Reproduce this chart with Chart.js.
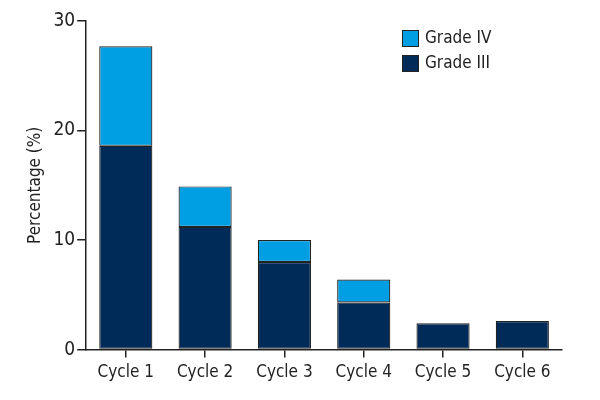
<!DOCTYPE html>
<html>
<head>
<meta charset="utf-8">
<script src="https://cdn.jsdelivr.net/npm/chart.js@4/dist/chart.umd.min.js"></script>
<style>
  html, body { margin: 0; padding: 0; background: #fff; }
  #wrap { width: 600px; height: 400px; }
</style>
</head>
<body>
<div id="wrap"><canvas id="c"></canvas></div>
<script>
const categories = ['Cycle 1', 'Cycle 2', 'Cycle 3', 'Cycle 4', 'Cycle 5', 'Cycle 6'];
const gradeIII = [18.6, 11.2, 8.0, 4.3, 2.4, 2.6];
const gradeIV = [9.1, 3.7, 2.0, 2.1, null, null];
const yTicks = [0, 10, 20, 30];

const FONT = '"DejaVu Sans Condensed", "Roboto", sans-serif';
const INK = '#222';

// legend drawn by hand, top-right inside the plot
const boxLegend = {
    id: 'boxLegend',
    afterDraw(chart) {
        const ctx = chart.ctx;
        const items = chart.data.datasets.slice().reverse();
        ctx.save();
        ctx.font = '17px ' + FONT;
        ctx.textBaseline = 'middle';
        items.forEach((ds, i) => {
            const x = 402, y = 30 + i * 25;
            ctx.fillStyle = ds.backgroundColor;
            ctx.fillRect(x, y, 16, 16);
            ctx.strokeStyle = INK;
            ctx.lineWidth = 1;
            ctx.strokeRect(x + 0.5, y + 0.5, 16, 16);
            ctx.fillStyle = INK;
            ctx.fillText(ds.label, x + 23, y + 9);
        });
        ctx.restore();
    }
};

new Chart(document.getElementById('c'), {
    type: 'bar',
    data: {
        labels: categories,
        datasets: [
            {
                label: 'Grade III',
                data: gradeIII,
                backgroundColor: '#002b59',
                borderColor: INK,
                borderWidth: 1.2,
                borderSkipped: false
            },
            {
                label: 'Grade IV',
                data: gradeIV,
                backgroundColor: '#009fe3',
                borderColor: INK,
                borderWidth: 1.2,
                borderSkipped: false
            }
        ]
    },
    options: {
        responsive: true,
        maintainAspectRatio: false,
        animation: false,
        layout: { padding: { top: 21, right: 38, left: 21, bottom: 12 } },
        datasets: { bar: { barPercentage: 0.67, categoryPercentage: 1 } },
        scales: {
            x: {
                stacked: true,
                grid: { drawOnChartArea: false, offset: false, tickLength: 8, color: INK, lineWidth: 1.5 },
                border: { color: INK, width: 1.5 },
                ticks: { color: INK, font: { family: FONT, size: 17 }, padding: 5 }
            },
            y: {
                stacked: true,
                min: 0,
                max: 30,
                afterBuildTicks: axis => { axis.ticks = yTicks.map(v => ({ value: v })); },
                grid: { drawOnChartArea: false, tickLength: 9, color: INK, lineWidth: 1.5 },
                border: { color: INK, width: 1.5 },
                ticks: { color: INK, font: { family: FONT, size: 19 }, padding: 2 },
                title: {
                    display: true,
                    text: 'Percentage (%)',
                    color: INK,
                    font: { family: FONT, size: 17 },
                    padding: { bottom: 6 }
                }
            }
        },
        plugins: {
            legend: { display: false },
            tooltip: { enabled: false }
        }
    },
    plugins: [boxLegend]
});
</script>
</body>
</html>
